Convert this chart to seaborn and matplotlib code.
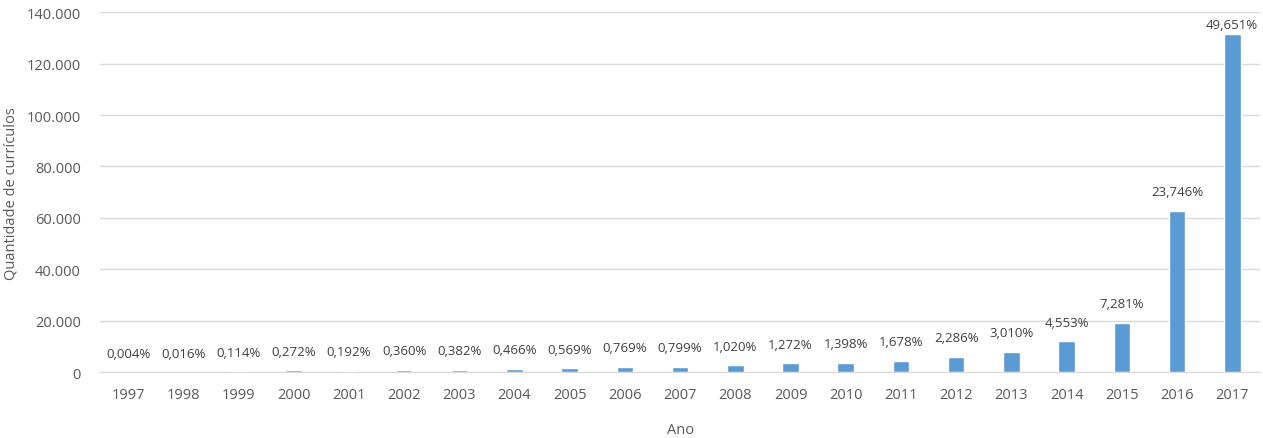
import matplotlib
matplotlib.use("Agg")
import matplotlib.pyplot as plt
import seaborn as sns
import pandas as pd

# Curriculos por ano (valores estimados a partir do grafico)
anos = ['1997', '1998', '1999', '2000', '2001', '2002', '2003', '2004', '2005', '2006', '2007',
        '2008', '2009', '2010', '2011', '2012', '2013', '2014', '2015', '2016', '2017']
quantidade = [11, 42, 302, 720, 508, 953, 1011, 1234, 1506, 2036, 2115,
              2700, 3367, 3700, 4442, 6051, 7967, 12052, 19273, 62856, 131426]
percentuais = ['0,004%', '0,016%', '0,114%', '0,272%', '0,192%', '0,360%', '0,382%', '0,466%',
               '0,569%', '0,769%', '0,799%', '1,020%', '1,272%', '1,398%', '1,678%', '2,286%',
               '3,010%', '4,553%', '7,281%', '23,746%', '49,651%']

df = pd.DataFrame({'ano': anos, 'qtd': quantidade})

sns.set_style('white')
plt.rcParams['font.family'] = ['Open Sans', 'DejaVu Sans']

cinza = '#595959'
fig = plt.figure(figsize=(12.63, 4.39), dpi=100)
ax = fig.add_axes([0.0795, 0.150, 0.918, 0.820])

sns.barplot(data=df, x='ano', y='qtd', color='#5B9BD5', width=0.3, saturation=1, ax=ax, zorder=3)

# rotulos de percentual acima das barras (o ultimo fica preso dentro da area)
for i, p in enumerate(percentuais):
    desloc = 2 if i == len(percentuais) - 1 else 9
    ax.annotate(p, (i, quantidade[i]), xytext=(0, desloc), textcoords='offset points',
                ha='center', va='bottom', fontsize=9.5, color='#404040')

ax.set_ylim(0, 140000)
ax.set_xlim(-0.5, 20.5)
ax.set_yticks(range(0, 140001, 20000))
ax.set_yticklabels([f'{v:,}'.replace(',', '.') for v in range(0, 140001, 20000)])
ax.yaxis.grid(True, color='#D9D9D9', linewidth=1)
ax.set_axisbelow(True)
for s in ['top', 'right', 'left']:
    ax.spines[s].set_visible(False)
ax.spines['bottom'].set_color('#D9D9D9')
ax.tick_params(axis='both', length=0, colors=cinza, labelsize=10.5)
ax.tick_params(axis='y', pad=14)
ax.tick_params(axis='x', pad=11)

ax.set_xlabel('Ano', color=cinza, fontsize=10.5, labelpad=14)
ax.set_ylabel('Quantidade de currículos', color=cinza, fontsize=10.5, labelpad=6)

fig.savefig('out.png', dpi=100)
